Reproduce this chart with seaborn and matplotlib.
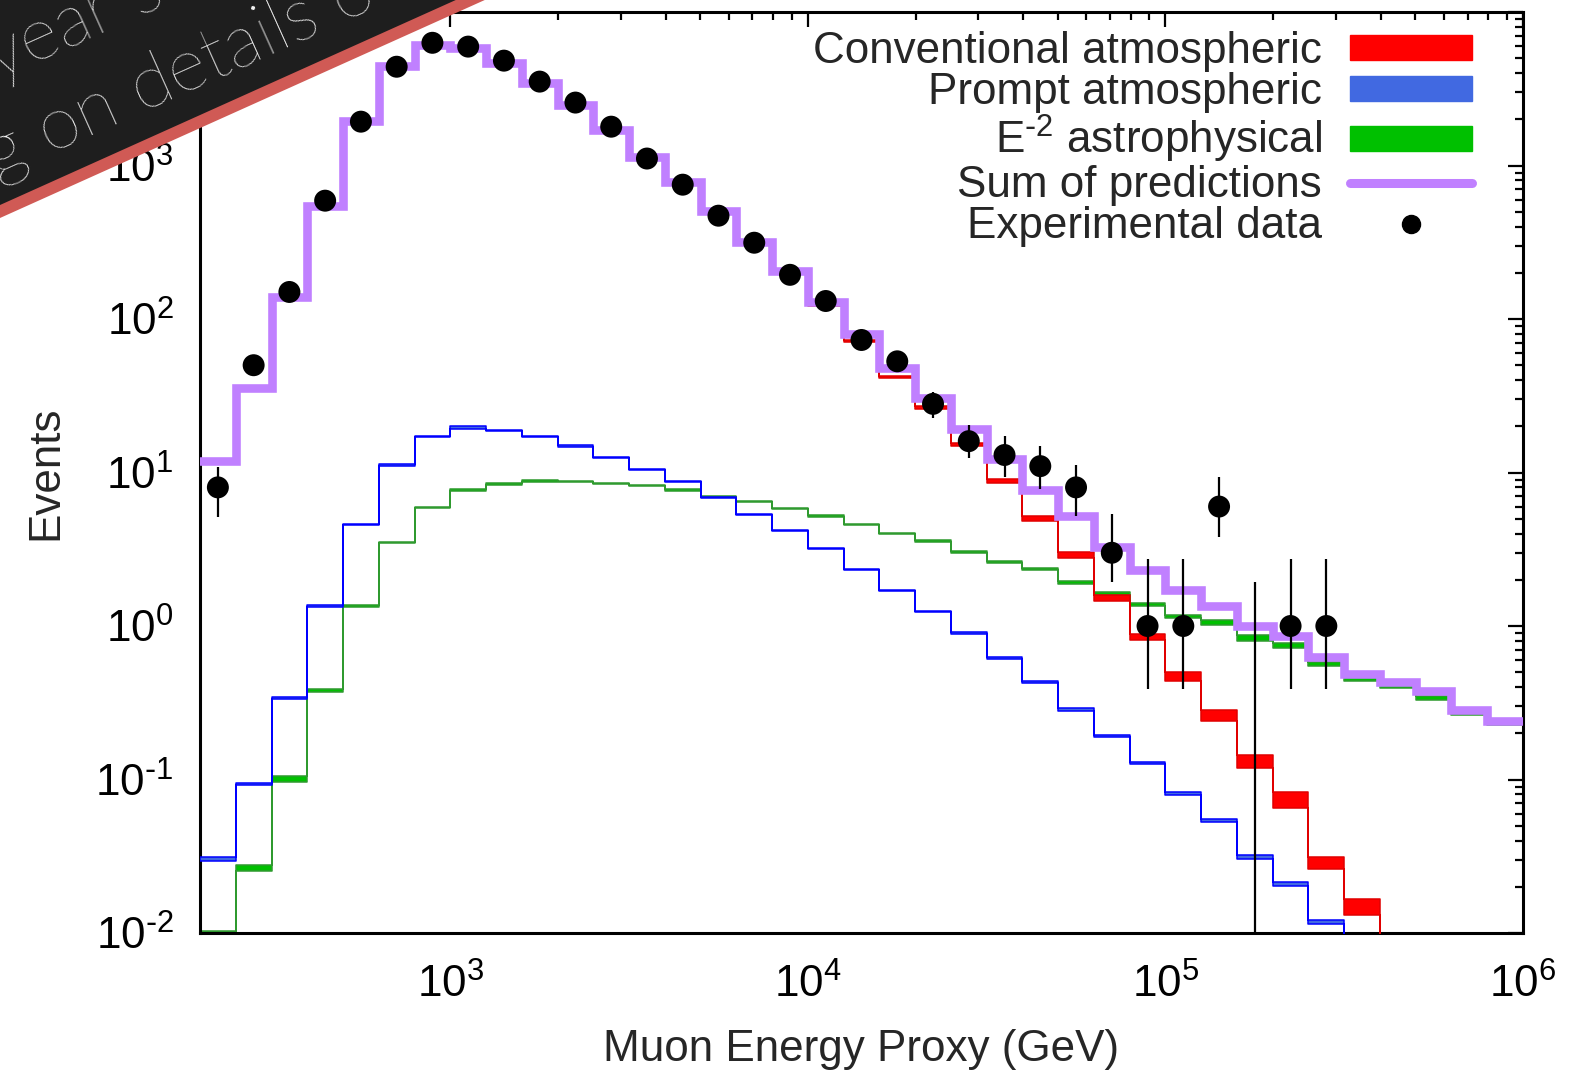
import matplotlib
matplotlib.use('Agg')
import numpy as np
import matplotlib.pyplot as plt
import seaborn as sns
from matplotlib.patches import Patch, Polygon
from matplotlib.lines import Line2D
from matplotlib.ticker import FuncFormatter, LogLocator, NullFormatter

# binning: 0.1 decade bins in log10(E/GeV)
log_lo, log_hi, log_step = 2.3, 6.0, 0.1

conventional = [11.8, 35.5, 139.5, 545, 1950, 4465, 6105, 5840, 4650, 3445, 2465, 1690,
                1120, 768, 493, 307, 197, 122, 72, 42, 26.4, 15.3, 8.8, 5.0, 2.9, 1.53,
                0.85, 0.47, 0.262, 0.132, 0.0736, 0.0287, 0.0149, 0.006, 0.003, 0.0015, 0.0008]
conventional_err = [0.01] * 20 + [0.02, 0.025, 0.03, 0.035, 0.04, 0.045, 0.05, 0.065,
                                  0.08, 0.1, 0.12, 0.09, 0.12, 0.12, 0.12, 0.12, 0.12]

prompt = [0.0304, 0.0935, 0.339, 1.35, 4.57, 11.2, 17.2, 19.6, 18.7, 17.2, 14.9, 12.5,
          10.5, 8.7, 6.9, 5.3, 4.17, 3.19, 2.34, 1.70, 1.24, 0.90, 0.62, 0.43, 0.286,
          0.192, 0.128, 0.0807, 0.054, 0.0313, 0.0208, 0.0118, 0.0065, 0.004, 0.0025,
          0.0015, 0.001]
prompt_err = [0.03, 0.02, 0.01, 0.01, 0.01, 0.01, 0.01, 0.02, 0.01, 0.01, 0.01, 0.01,
              0.01, 0.01, 0.01, 0.01, 0.01, 0.01, 0.01, 0.01, 0.01, 0.015, 0.015, 0.015,
              0.02, 0.02, 0.02, 0.025, 0.025, 0.03, 0.03, 0.03, 0.03, 0.03, 0.03, 0.03, 0.03]

astro = [0.0102, 0.0265, 0.101, 0.382, 1.35, 3.5, 5.9, 7.7, 8.4, 8.8, 8.7, 8.5, 8.2,
         7.7, 7.0, 6.5, 5.8, 5.2, 4.57, 4.02, 3.6, 3.03, 2.62, 2.34, 1.92, 1.63, 1.38,
         1.15, 1.06, 0.836, 0.747, 0.57, 0.453, 0.408, 0.338, 0.27, 0.232]
astro_err = [0.01, 0.05, 0.04, 0.02, 0.015, 0.01, 0.01, 0.01, 0.015, 0.01, 0.01, 0.01,
             0.01, 0.01, 0.01, 0.01, 0.01, 0.01, 0.01, 0.01, 0.015, 0.015, 0.015, 0.015,
             0.02, 0.02, 0.02, 0.02, 0.04, 0.04, 0.04, 0.03, 0.03, 0.03, 0.03, 0.03, 0.03]

sum_pred = [11.9, 35.6, 140, 547, 1960, 4480, 6130, 5870, 4680, 3470, 2490, 1710, 1140,
            784, 507, 318, 206, 129, 80, 48, 30.5, 19.3, 12.2, 7.7, 5.2, 3.26, 2.3, 1.71,
            1.35, 1.0, 0.857, 0.63, 0.489, 0.43, 0.38, 0.283, 0.242]

# experimental data (first 32 bins) with asymmetric errors
data = [8, 50, 150, 590, 1930, 4400, 6300, 5950, 4820, 3520, 2570, 1790, 1110, 750,
        471, 314, 194, 131, 73, 53, 28, 16, 13, 11, 8, 3, 1, 1, 6, 0, 1, 1]
data_err_lo = [2.9, 7, 12, 24, 44, 66, 79, 77, 69, 59, 51, 42, 33, 27, 22, 18, 14, 11,
               8.5, 7.3, 5.3, 3.6, 3.7, 3.2, 2.8, 1.06, 0.61, 0.61, 2.2, 0, 0.61, 0.61]
data_err_hi = [2.9, 7, 12, 24, 44, 66, 79, 77, 69, 59, 51, 42, 33, 27, 22, 18, 14, 11,
               8.5, 7.3, 5.3, 4.4, 4.4, 3.9, 3.2, 2.36, 1.75, 1.75, 3.3, 1.94, 1.75, 1.75]

labels = ["Conventional atmospheric", "Prompt atmospheric", r"E$^{\text{-}2}$ astrophysical",
          "Sum of predictions", "Experimental data"]

RED, RED_EDGE = '#ff0000', '#e00000'
BLUE, BLUE_EDGE = '#4169e1', '#0000ff'
GREEN, GREEN_EDGE = '#00c000', '#2f9a2f'
PURPLE = '#c080ff'

sns.set_style("white")
plt.rcParams['font.family'] = ['Liberation Sans', 'DejaVu Sans']
plt.rcParams['mathtext.default'] = 'regular'
plt.rcParams['axes.unicode_minus'] = False
FS = 31.7

log_edges = np.round(np.arange(log_lo, log_hi + log_step / 2, log_step), 2)
edges = 10 ** log_edges
centers = 10 ** (log_edges[:-1] + log_step / 2)

fig = plt.figure(figsize=(15.72, 10.74), dpi=100)
ax = fig.add_axes([200 / 1572, 1 - 933 / 1074, 1323 / 1572, 921 / 1074])
ax.set_xscale('log')
ax.set_yscale('log')


def band(vals, rel, face, edge, z):
    v = np.asarray(vals, float)
    r = np.asarray(rel, float)
    lo = np.append(v * (1 - r), v[-1] * (1 - r[-1]))
    hi = np.append(v * (1 + r), v[-1] * (1 + r[-1]))
    ax.fill_between(edges, lo, hi, step='post', facecolor=face, edgecolor=edge,
                    linewidth=1.1, zorder=z)


band(astro, astro_err, GREEN, GREEN_EDGE, 2)
band(prompt, prompt_err, BLUE, BLUE_EDGE, 3)
band(conventional, conventional_err, RED, RED_EDGE, 4)

sp = np.append(sum_pred, sum_pred[-1])
sns.lineplot(x=edges, y=sp, drawstyle='steps-post', estimator=None, sort=False,
             color=PURPLE, lw=6.2, ax=ax, zorder=5, solid_joinstyle='miter')

d = np.asarray(data, float)
nd = len(d)
xc = centers[:nd]
lo = np.clip(d - np.asarray(data_err_lo), 1e-4, None)
hi = d + np.asarray(data_err_hi)
ax.vlines(xc, lo, hi, color='black', lw=1.6, zorder=6)
mask = d > 0
sns.scatterplot(x=xc[mask], y=d[mask], s=250, color='black', edgecolor='none',
                ax=ax, zorder=7, legend=False)

ax.set_xlim(edges[0], edges[-1])
ax.set_ylim(1e-2, 1e4)


def pow10(v, _):
    e = int(round(np.log10(v)))
    ex = r"\text{-}%d" % -e if e < 0 else "%d" % e
    return r"$10^{%s}$" % ex


for s in ax.spines.values():
    s.set_linewidth(2.2)
    s.set_color('black')
ax.tick_params(which='both', direction='in', top=True, right=True, width=1.6,
               colors='black', labelsize=FS)
ax.tick_params(which='major', length=11)
ax.tick_params(which='minor', length=6)
ax.tick_params(axis='y', which='major', pad=19)
ax.tick_params(axis='x', which='major', pad=22)
for axis in (ax.xaxis, ax.yaxis):
    axis.set_major_locator(LogLocator(numticks=20))
    axis.set_major_formatter(FuncFormatter(pow10))
    axis.set_minor_locator(LogLocator(subs=np.arange(2, 10), numticks=20))
    axis.set_minor_formatter(NullFormatter())

ax.set_xlabel("Muon Energy Proxy (GeV)", fontsize=FS, labelpad=16)
ax.set_ylabel("Events", fontsize=FS, labelpad=21)

handles = [Patch(facecolor=RED, edgecolor=RED),
           Patch(facecolor=BLUE, edgecolor=BLUE),
           Patch(facecolor=GREEN, edgecolor=GREEN),
           Line2D([], [], color=PURPLE, lw=6.5),
           Line2D([], [], marker='o', ls='none', color='black', ms=13)]
ax.legend(handles, labels, loc='upper right', bbox_to_anchor=(0.9615, 0.979),
          frameon=False, markerfirst=False, fontsize=FS, handlelength=2.77,
          handleheight=0.5, handletextpad=0.64, labelspacing=0.0,
          borderpad=0, borderaxespad=0)

# overlay banner in the top-left corner
ov = fig.add_axes([0, 0, 1, 1], zorder=20)
ov.set_xlim(0, 1572)
ov.set_ylim(1074, 0)
ov.axis('off')
ov.patch.set_visible(False)
ov.add_patch(Polygon([(-10, -10), (507, -10), (-10, 222.5)], closed=True,
                     facecolor='#d05a55', edgecolor='none'))
black = Polygon([(-10, -10), (478, -10), (-10, 209.5)], closed=True,
                facecolor='#1e1e1e', edgecolor='none')
ov.add_patch(black)
for txt, (x0, y0) in [("year s", (-2, 80)), ("g on details o", (-4, 178))]:
    t = ov.text(x0, y0, txt, color='#f4f4f4', fontsize=53, rotation=24.2,
                rotation_mode='anchor', ha='left', va='baseline',
                family=['Lato', 'Open Sans', 'DejaVu Sans'], fontweight='light')
    t.set_clip_path(black)

fig.savefig("out.png", dpi=100)
